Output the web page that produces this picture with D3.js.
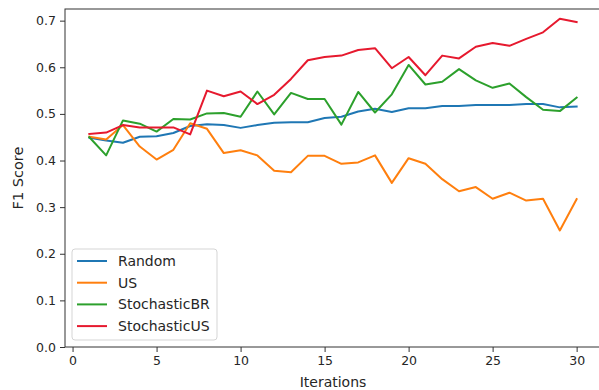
<!DOCTYPE html>
<html>
<head>
<meta charset="utf-8">
<script src="https://cdn.jsdelivr.net/npm/d3@7"></script>
<style>
  body { margin: 0; background: #fff; }
  text { font-family: "DejaVu Sans", sans-serif; fill: #262626; }
</style>
</head>
<body>
<svg id="chart" width="599" height="390"></svg>
<script>
let iterations = d3.range(1, 31);
let random_vals = [0.449, 0.443, 0.438, 0.451, 0.452, 0.459, 0.474, 0.478, 0.476, 0.470,
  0.476, 0.481, 0.482, 0.482, 0.491, 0.494, 0.505, 0.511, 0.504, 0.512,
  0.512, 0.517, 0.517, 0.519, 0.519, 0.519, 0.521, 0.521, 0.514, 0.516];
let us_vals = [0.451, 0.445, 0.476, 0.430, 0.402, 0.423, 0.480, 0.468, 0.416, 0.422,
  0.411, 0.378, 0.375, 0.410, 0.410, 0.393, 0.396, 0.411, 0.352, 0.405,
  0.393, 0.360, 0.334, 0.343, 0.318, 0.331, 0.314, 0.318, 0.250, 0.317];
let sbr_vals = [0.450, 0.411, 0.486, 0.479, 0.462, 0.489, 0.488, 0.501, 0.502, 0.494,
  0.548, 0.499, 0.545, 0.532, 0.532, 0.477, 0.547, 0.503, 0.542, 0.605,
  0.563, 0.569, 0.596, 0.572, 0.556, 0.565, 0.536, 0.509, 0.506, 0.535];
let sus_vals = [0.457, 0.460, 0.476, 0.471, 0.471, 0.471, 0.456, 0.550, 0.538, 0.548,
  0.521, 0.541, 0.575, 0.615, 0.622, 0.625, 0.637, 0.641, 0.598, 0.622,
  0.583, 0.625, 0.619, 0.644, 0.652, 0.646, 0.661, 0.675, 0.704, 0.697];
let series_names = ["Random", "US", "StochasticBR", "StochasticUS"];
let series_colors = ["#1f77b4", "#ff7f0e", "#2ca02c", "#e6192e"];
let x_ticks = [0, 5, 10, 15, 20, 25, 30];
let y_ticks = [0, 0.1, 0.2, 0.3, 0.4, 0.5, 0.6, 0.7];

let all_series = [random_vals, us_vals, sbr_vals, sus_vals];

let margin = { top: 9, right: -2, bottom: 43, left: 65 },
  width = 599 - margin.left - margin.right,
  height = 390 - margin.top - margin.bottom;

let svg = d3.select("#chart");
let g = svg.append("g")
  .attr("transform", "translate(" + margin.left + "," + margin.top + ")");

let x = d3.scaleLinear().domain([-0.45, 31.45]).range([0, width]);
let y = d3.scaleLinear().domain([0, 0.725]).range([height, 0]);

let line = d3.line()
  .x((d, i) => x(iterations[i]))
  .y(d => y(d));

all_series.forEach((vals, k) => {
  g.append("path")
    .datum(vals)
    .attr("fill", "none")
    .attr("stroke", series_colors[k])
    .attr("stroke-width", 2)
    .attr("stroke-linejoin", "round")
    .attr("stroke-linecap", "square")
    .attr("d", line);
});

// axes
let xAxis = g.append("g")
  .attr("transform", "translate(0," + height + ")")
  .call(d3.axisBottom(x).tickValues(x_ticks).tickSize(5).tickPadding(4));
let yAxis = g.append("g")
  .call(d3.axisLeft(y).tickValues(y_ticks).tickFormat(d3.format(".1f")).tickSize(5).tickPadding(4));
[xAxis, yAxis].forEach(a => {
  a.select(".domain").remove();
  a.selectAll("line").attr("stroke", "#333");
  a.selectAll("text").attr("font-size", "12.5px").attr("font-family", "DejaVu Sans").attr("fill", "#262626");
});

// frame
g.append("rect")
  .attr("x", 0).attr("y", 0)
  .attr("width", width).attr("height", height)
  .attr("fill", "none")
  .attr("stroke", "#333")
  .attr("stroke-width", 1);

// labels
svg.append("text")
  .attr("x", margin.left + x(15.5))
  .attr("y", 387)
  .attr("text-anchor", "middle")
  .attr("font-size", "14px")
  .text("Iterations");
svg.append("text")
  .attr("transform", "translate(23," + (margin.top + height / 2) + ") rotate(-90)")
  .attr("text-anchor", "middle")
  .attr("font-size", "14.5px")
  .text("F1 Score");

// legend
let legend = g.append("g").attr("transform", "translate(7," + (height - 98) + ")");
legend.append("rect")
  .attr("width", 145).attr("height", 91)
  .attr("rx", 3)
  .attr("fill", "#fff").attr("fill-opacity", 0.8)
  .attr("stroke", "#d5d5d5");
series_names.forEach((name, k) => {
  let yy = 12 + k * 21.7;
  legend.append("line")
    .attr("x1", 5).attr("x2", 35)
    .attr("y1", yy).attr("y2", yy)
    .attr("stroke", series_colors[k]).attr("stroke-width", 2);
  legend.append("text")
    .attr("x", 46).attr("y", yy)
    .attr("dy", "0.35em")
    .attr("font-size", "14px")
    .text(name);
});
</script>
</body>
</html>
